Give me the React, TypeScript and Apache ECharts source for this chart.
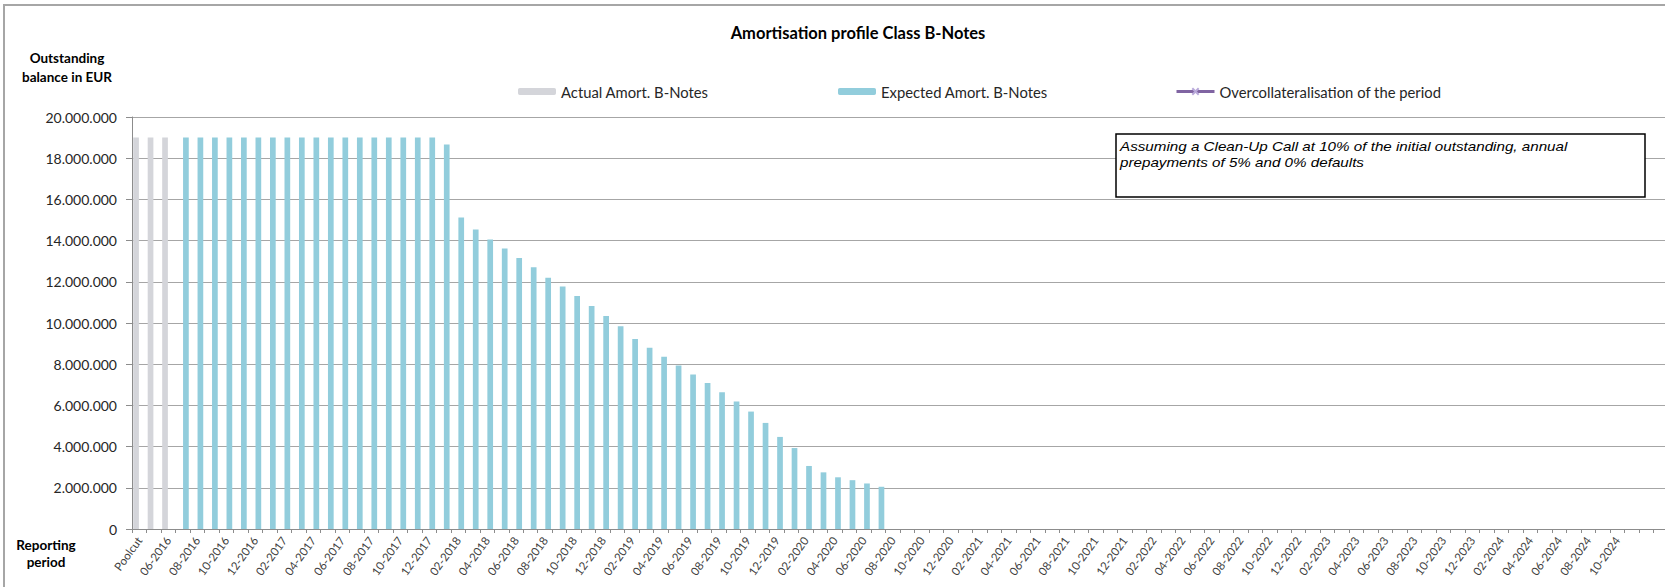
import React, { useEffect, useRef } from "react";
import * as echarts from "echarts";

const categories: string[] = [
  "Poolcut",
  "05-2016", "06-2016", "07-2016", "08-2016", "09-2016", "10-2016", "11-2016", "12-2016",
  "01-2017", "02-2017", "03-2017", "04-2017", "05-2017", "06-2017", "07-2017", "08-2017", "09-2017", "10-2017", "11-2017", "12-2017",
  "01-2018", "02-2018", "03-2018", "04-2018", "05-2018", "06-2018", "07-2018", "08-2018", "09-2018", "10-2018", "11-2018", "12-2018",
  "01-2019", "02-2019", "03-2019", "04-2019", "05-2019", "06-2019", "07-2019", "08-2019", "09-2019", "10-2019", "11-2019", "12-2019",
  "01-2020", "02-2020", "03-2020", "04-2020", "05-2020", "06-2020", "07-2020", "08-2020", "09-2020", "10-2020", "11-2020", "12-2020",
  "01-2021", "02-2021", "03-2021", "04-2021", "05-2021", "06-2021", "07-2021", "08-2021", "09-2021", "10-2021", "11-2021", "12-2021",
  "01-2022", "02-2022", "03-2022", "04-2022", "05-2022", "06-2022", "07-2022", "08-2022", "09-2022", "10-2022", "11-2022", "12-2022",
  "01-2023", "02-2023", "03-2023", "04-2023", "05-2023", "06-2023", "07-2023", "08-2023", "09-2023", "10-2023", "11-2023", "12-2023",
  "01-2024", "02-2024", "03-2024", "04-2024", "05-2024", "06-2024", "07-2024", "08-2024", "09-2024", "10-2024",
  "", "", "",
];

const actualAmort: (number | null)[] = [19000000, 19000000, 19000000];

const expectedAmort: (number | null)[] = [
  null, null, null,
  19000000, 19000000, 19000000, 19000000, 19000000, 19000000, 19000000, 19000000, 19000000,
  19000000, 19000000, 19000000, 19000000, 19000000, 19000000, 19000000, 19000000, 19000000,
  18660000,
  15120000, 14540000, 14050000, 13620000, 13160000, 12710000, 12200000, 11770000, 11310000, 10830000,
  10340000, 9840000, 9220000, 8800000, 8360000, 7940000, 7500000, 7090000, 6640000, 6190000,
  5700000, 5150000, 4470000, 3930000, 3060000, 2750000, 2510000, 2370000, 2210000, 2050000,
];

const overcollateralisation: (number | null)[] = [];

const seriesNames = [
  "Actual Amort. B-Notes",
  "Expected Amort. B-Notes",
  "Overcollateralisation of the period",
];

const noteLines = [
  "Assuming a Clean-Up Call at 10% of the initial outstanding, annual",
  "prepayments of 5% and 0% defaults",
];

const FONT = "Lato, 'Open Sans', sans-serif";
const NOTE_FONT = "'Liberation Sans', Arial, sans-serif";

function fmt(v: number): string {
  return String(Math.round(v)).replace(/\B(?=(\d{3})+(?!\d))/g, ".");
}

function boldLabel(text: string, x: number, y: number, size: number) {
  return {
    type: "text",
    x,
    y,
    style: {
      text,
      fontFamily: FONT,
      fontSize: size,
      fontWeight: "bold",
      fill: "#000000",
      textAlign: "center",
      textVerticalAlign: "middle",
    },
  };
}

function noteText(text: string, y: number) {
  return {
    type: "text",
    z: 51,
    x: 1120,
    y,
    scaleX: 1.17,
    style: {
      text,
      fontFamily: NOTE_FONT,
      fontStyle: "italic",
      fontSize: 13,
      fill: "#000000",
      textAlign: "left",
      textVerticalAlign: "middle",
    },
  };
}

export default function App() {
  const ref = useRef<HTMLDivElement>(null);

  useEffect(() => {
    document.body.style.margin = "0";
    if (!ref.current) return;
    const chart = echarts.init(ref.current, undefined, { renderer: "svg" });
    const legendBase = {
      top: 79,
      itemWidth: 38,
      itemHeight: 7,
      itemGap: 5,
      textStyle: { fontFamily: FONT, fontSize: 14.8, color: "#262626" },
    };
    chart.setOption({
      animation: false,
      backgroundColor: "#ffffff",
      textStyle: { fontFamily: FONT },
      grid: {
        left: 132,
        right: -3,
        top: 117,
        bottom: 58,
        containLabel: false,
        outerBoundsMode: "none",
      },
      legend: [
        { ...legendBase, left: 513, data: [seriesNames[0]] },
        { ...legendBase, left: 833, data: [seriesNames[1]] },
        {
          ...legendBase,
          left: 1170,
          itemHeight: 8,
          data: [seriesNames[2]],
          lineStyle: { width: 3, color: "#8064a2" },
        },
      ],
      xAxis: {
        type: "category",
        data: categories,
        boundaryGap: true,
        axisLine: { show: true, lineStyle: { color: "#8c8c8c", width: 1 } },
        axisTick: { show: true, interval: 0, length: 4, lineStyle: { color: "#8c8c8c" } },
        axisLabel: {
          interval: 1,
          rotate: 54,
          margin: 9,
          fontFamily: FONT,
          fontSize: 11.5,
          color: "#404040",
        },
        splitLine: { show: false },
      },
      yAxis: {
        type: "value",
        min: 0,
        max: 20000000,
        interval: 2000000,
        axisLine: { show: true, lineStyle: { color: "#8c8c8c", width: 1 } },
        axisTick: { show: true, length: 6, lineStyle: { color: "#8c8c8c" } },
        axisLabel: {
          margin: 15,
          fontFamily: FONT,
          fontSize: 14,
          color: "#262626",
          formatter: (v: number) => fmt(v),
        },
        splitLine: { show: true, lineStyle: { color: "#a6a6a6", width: 1 } },
      },
      series: [
        {
          name: seriesNames[0],
          type: "bar",
          data: actualAmort,
          barWidth: 5.7,
          barGap: "12%",
          itemStyle: { color: "#d4d5da" },
        },
        {
          name: seriesNames[1],
          type: "bar",
          data: expectedAmort,
          barWidth: 5.7,
          barGap: "12%",
          itemStyle: { color: "#92cddc" },
        },
        {
          name: seriesNames[2],
          type: "line",
          data: overcollateralisation,
          symbol: "path://M0,0L10,10M10,0L0,10",
          symbolSize: 7,
          lineStyle: { color: "#8064a2", width: 3 },
          itemStyle: { color: "#c9bde0", borderColor: "#b9a9da", borderWidth: 1 },
        },
      ],
      graphic: [
        {
          type: "rect",
          silent: true,
          z: -10,
          shape: { x: 4, y: 5, width: 1720, height: 700 },
          style: { fill: "none", stroke: "#a6a6a6", lineWidth: 2 },
        },
        {
          type: "text",
          x: 858,
          y: 33,
          style: {
            text: "Amortisation profile Class B-Notes",
            fontFamily: FONT,
            fontSize: 16.5,
            fontWeight: "bold",
            fill: "#000000",
            textAlign: "center",
            textVerticalAlign: "middle",
          },
        },
        boldLabel("Outstanding", 67, 58, 13.5),
        boldLabel("balance in EUR", 67, 76.5, 13.5),
        boldLabel("Reporting", 46, 545, 13.5),
        boldLabel("period", 46, 562, 13.5),
        {
          type: "rect",
          z: 50,
          shape: { x: 1116, y: 134, width: 529, height: 63 },
          style: { fill: "#ffffff", stroke: "#000000", lineWidth: 1.5 },
        },
        noteText(noteLines[0], 146.5),
        noteText(noteLines[1], 162.5),
      ],
    });
    return () => chart.dispose();
  }, []);

  return <div ref={ref} style={{ width: 1665, height: 587 }} />;
}
